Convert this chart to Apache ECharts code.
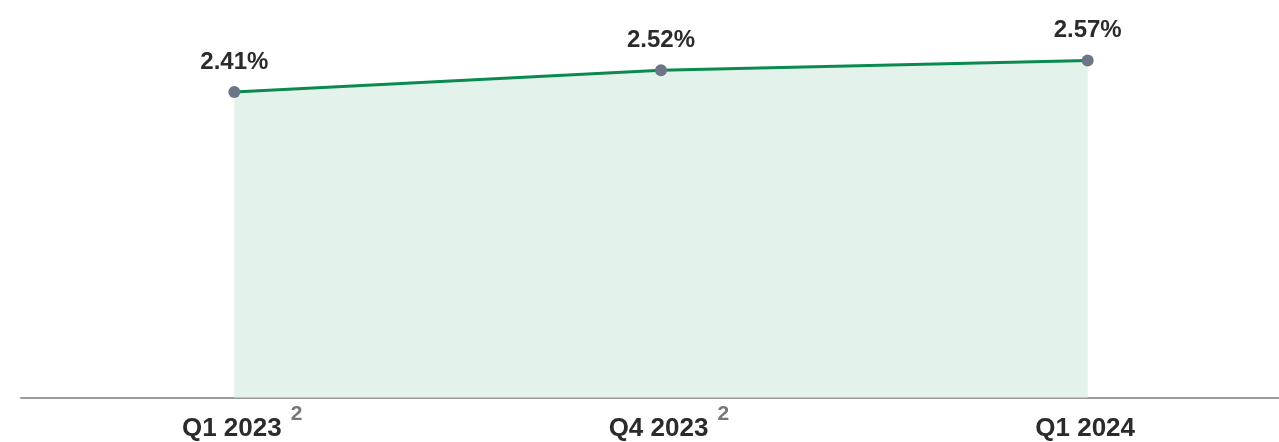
<!DOCTYPE html>
<html><head><meta charset="utf-8">
<script src="https://cdn.jsdelivr.net/npm/echarts@6/dist/echarts.min.js"></script>
<style>html,body{margin:0;padding:0;background:#fff}#c{width:1279px;height:442px}</style>
</head><body><div id="c"></div>
<script>
const categories = ['Q1 2023', 'Q4 2023', 'Q1 2024'];
const footnotes = ['2', '2', ''];
const values = [2.41, 2.52, 2.57];

const FONT = '"Liberation Sans", Arial, sans-serif';
const chart = echarts.init(document.getElementById('c'), null, {renderer: 'canvas'});
chart.setOption({
  animation: false,
  grid: {left: 21, width: 1280, top: 0, bottom: 44.5, containLabel: false, outerBoundsMode: 'none'},
  xAxis: {
    type: 'category', data: categories, boundaryGap: true,
    axisLine: {show: true, lineStyle: {color: '#9a9a9a', width: 2}},
    axisTick: {show: false},
    axisLabel: {
      margin: 18,
      interval: 0,
      hideOverlap: false,
      formatter: (v, i) => `{pad|}{main|${v}}{sup|${footnotes[i] || ' '}}`,
      rich: {
        main: {fontFamily: FONT, fontWeight: 'bold', fontSize: 26, lineHeight: 26, color: '#2b2b2b'},
        pad: {width: 20},
        sup: {fontFamily: FONT, fontWeight: 'bold', fontSize: 21, lineHeight: 21, color: '#777', width: 20, padding: [0, 0, 29, 5]}
      }
    },
    splitLine: {show: false}
  },
  yAxis: {type: 'value', min: 0.851, max: 2.879, show: false, splitLine: {show: false}},
  series: [{
    type: 'line', data: values,
    symbol: 'circle', symbolSize: 12,
    itemStyle: {color: '#6b7686'},
    lineStyle: {color: '#0b8a4f', width: 3},
    areaStyle: {color: '#e3f2ea', opacity: 1, origin: 'start'},
    label: {
      show: true, position: 'top', distance: 12,
      formatter: p => p.value.toFixed(2) + '%',
      fontFamily: FONT, fontWeight: 'bold', fontSize: 24, color: '#2b2b2b'
    },
    z: 3
  }]
});
</script></body></html>
